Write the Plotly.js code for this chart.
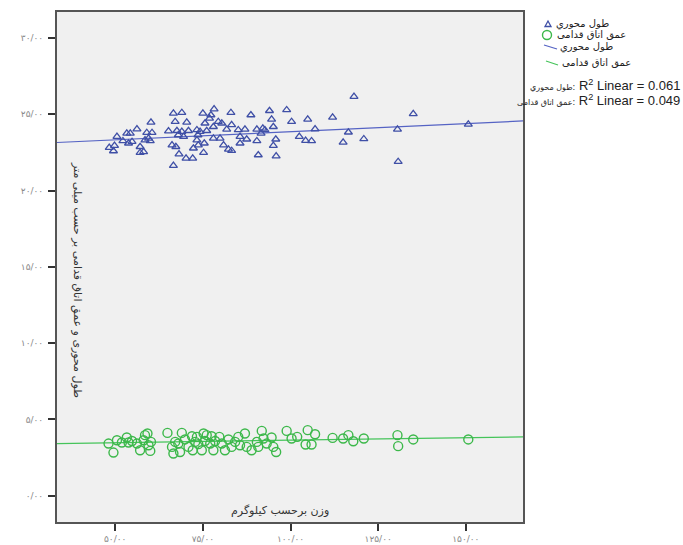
<!DOCTYPE html>
<html>
<head>
<meta charset="utf-8">
<script src="https://cdn.plot.ly/plotly-3.0.1.min.js"></script>
<style>html,body{margin:0;padding:0;background:#fff;}#chart{width:683px;height:545px;}</style>
</head>
<body>
<div id="chart"></div>
<script>
// ---- data ----
const seriesNames = ["طول محوري", "عمق اتاق قدامی"];

// weight (kg) vs axial length (mm)
const weightAL = [48.3,49.8,49.5,50.5,52.2,53.3,54.3,53.8,54.8,56.2,57.1,57.1,58.1,58.5,59.0,60.2,60.5,60.0,59.5,65.2,66.2,66.6,67.1,67.3,66.6,67.6,68.0,68.2,69.0,69.0,69.5,70.4,70.2,70.9,72.1,72.3,73.3,73.6,73.3,73.7,74.2,75.0,75.4,75.2,75.6,76.1,76.9,77.3,78.2,78.0,78.0,79.4,79.9,80.4,80.9,81.8,82.3,83.0,83.2,83.2,85.1,85.6,85.6,87.0,87.5,88.7,90.4,90.4,90.8,91.6,92.1,92.7,94.0,94.6,95.1,95.1,95.8,95.9,98.9,100.3,102.5,104.3,104.9,106.0,107.0,112.0,115.0,116.5,118.1,120.9,130.5,130.7,135.0,150.7];
const axialLength = [22.81,22.94,22.59,23.53,23.25,23.75,23.75,23.10,23.20,24.03,22.87,22.48,22.54,23.31,23.79,24.47,23.79,23.25,23.42,23.90,22.98,25.06,24.51,22.87,21.63,23.92,23.64,22.39,25.10,23.86,23.53,24.47,22.11,23.92,22.11,22.77,23.97,23.64,23.31,22.98,23.86,25.06,23.10,22.48,24.41,23.92,24.73,24.95,25.34,23.42,24.18,24.51,23.42,24.41,22.98,24.01,22.70,25.10,24.30,22.61,23.97,23.53,23.10,24.01,23.36,24.95,24.01,23.25,22.33,23.75,24.08,23.97,25.23,24.67,24.18,22.94,23.36,22.26,25.28,24.51,23.53,23.27,24.67,23.25,24.03,24.80,23.16,23.82,26.15,23.38,24.01,21.89,25.02,24.34];

// weight (kg) vs anterior chamber depth (mm)
const weightACD = [48.1,49.5,50.5,51.9,53.3,53.8,54.8,56.2,57.1,58.1,58.5,59.2,59.5,60.2,60.0,64.9,66.2,66.6,67.1,68.0,68.5,69.0,69.9,70.9,71.9,72.1,72.8,73.3,73.7,74.7,75.2,75.6,76.1,77.1,77.5,78.0,78.5,79.7,80.4,81.3,82.3,83.2,84.2,85.1,85.6,87.0,87.5,88.9,90.4,90.8,91.8,92.3,93.2,94.6,95.1,95.9,98.9,100.3,101.9,104.3,104.9,106.0,107.0,112.0,115.0,116.5,117.9,120.9,130.5,130.7,135.0,150.7];
const chamberDepth = [3.42,2.83,3.64,3.49,3.82,3.49,3.59,3.42,2.98,3.64,3.97,4.08,3.31,3.53,2.94,4.12,3.20,2.77,3.53,3.42,2.87,4.12,3.69,3.20,3.90,2.98,3.53,3.86,3.38,2.98,4.08,3.59,3.97,3.42,3.90,2.98,3.59,3.86,3.42,2.98,3.69,3.20,3.53,3.86,3.31,4.08,3.20,2.98,3.53,3.20,4.25,3.75,3.42,3.82,3.20,2.87,4.25,3.75,3.86,3.36,4.30,3.36,4.03,3.79,3.75,3.97,3.57,3.75,3.97,3.25,3.69,3.69];

// linear fit lines (ends read at the plot edges)
const fitX = [33.4, 166.3];
const fitAL = [23.15, 24.56];
const fitACD = [3.42, 3.86];

const r2Values = ["0.061", "0.049"];

const xTickVals = [50, 75, 100, 125, 150];
const xTickText = ["۵۰/۰۰", "۷۵/۰۰", "۱۰۰/۰۰", "۱۲۵/۰۰", "۱۵۰/۰۰"];
const yTickVals = [0, 5, 10, 15, 20, 25, 30];
const yTickText = ["۰/۰۰", "۵/۰۰", "۱۰/۰۰", "۱۵/۰۰", "۲۰/۰۰", "۲۵/۰۰", "۳۰/۰۰"];

const xTitle = "وزن برحسب کیلوگرم";
const yTitle = "طول محوری و عمق اتاق قدامی بر حسب میلی متر";

// ---- chart ----
const blue = "#3f4fa6", blueLine = "#5563c4";
const green = "#3cb84a", greenLine = "#45c45a";
const fa = "DejaVu Sans, sans-serif";

const traces = [
  {x: fitX, y: fitAL, mode: "lines", line: {color: blueLine, width: 1.2}, showlegend: false, hoverinfo: "skip"},
  {x: fitX, y: fitACD, mode: "lines", line: {color: greenLine, width: 1.2}, showlegend: false, hoverinfo: "skip"},
  {x: weightAL, y: axialLength, mode: "markers", name: seriesNames[0], showlegend: false,
   marker: {symbol: "triangle-up-open", size: 7, color: blue, line: {width: 1.3, color: blue}}},
  {x: weightACD, y: chamberDepth, mode: "markers", name: seriesNames[1], showlegend: false,
   marker: {symbol: "circle-open", size: 9, color: green, line: {width: 1.4, color: green}}}
];

// paper coordinate helpers (plot area: x 57..523, y 12..522)
const px = v => (v - 57) / 466;
const py = v => (522 - v) / 510;

const annotations = [
  {xref: "paper", yref: "paper", x: px(280), y: py(510), text: xTitle, showarrow: false,
   font: {family: fa, size: 11, color: "#333"}, xanchor: "center", yanchor: "middle"},
  {xref: "paper", yref: "paper", x: px(77), y: py(280), text: yTitle, textangle: 90, showarrow: false,
   font: {family: fa, size: 11, color: "#333"}, xanchor: "center", yanchor: "middle"},
  // legend texts
  {xref: "paper", yref: "paper", x: px(554), y: py(24), text: seriesNames[0], showarrow: false,
   font: {family: fa, size: 10, color: "#222"}, xanchor: "left", yanchor: "middle"},
  {xref: "paper", yref: "paper", x: px(555), y: py(35), text: seriesNames[1], showarrow: false,
   font: {family: fa, size: 10, color: "#222"}, xanchor: "left", yanchor: "middle"},
  {xref: "paper", yref: "paper", x: px(558), y: py(47), text: seriesNames[0], showarrow: false,
   font: {family: fa, size: 10, color: "#222"}, xanchor: "left", yanchor: "middle"},
  {xref: "paper", yref: "paper", x: px(560), y: py(63), text: seriesNames[1], showarrow: false,
   font: {family: fa, size: 10, color: "#222"}, xanchor: "left", yanchor: "middle"},
  {xref: "paper", yref: "paper", x: px(682), y: py(85), xanchor: "right", yanchor: "middle", showarrow: false,
   text: '<span style="font-family:DejaVu Sans;font-size:8px">' + seriesNames[0] + ':</span> R<sup>2</sup> Linear = ' + r2Values[0],
   font: {family: "Liberation Sans, Arial, sans-serif", size: 13, color: "#222"}},
  {xref: "paper", yref: "paper", x: px(682), y: py(100), xanchor: "right", yanchor: "middle", showarrow: false,
   text: '<span style="font-family:DejaVu Sans;font-size:8px">' + seriesNames[1] + ':</span> R<sup>2</sup> Linear = ' + r2Values[1],
   font: {family: "Liberation Sans, Arial, sans-serif", size: 13, color: "#222"}}
];

const shapes = [
  // legend symbols
  {type: "path", xref: "paper", yref: "paper", xsizemode: "pixel", ysizemode: "pixel",
   xanchor: px(548), yanchor: py(24), path: "M-3,-2.5 L3,-2.5 L0,3 Z",
   line: {color: blue, width: 1.3}},
  {type: "circle", xref: "paper", yref: "paper", xsizemode: "pixel", ysizemode: "pixel",
   xanchor: px(547), yanchor: py(35), x0: -4.5, x1: 4.5, y0: -4.5, y1: 4.5,
   line: {color: green, width: 1.4}},
  {type: "line", xref: "paper", yref: "paper", x0: px(544), y0: py(45), x1: px(557), y1: py(49),
   line: {color: blueLine, width: 1.2}},
  {type: "line", xref: "paper", yref: "paper", x0: px(546), y0: py(61), x1: px(558), y1: py(65),
   line: {color: greenLine, width: 1.2}}
];

const axisCommon = {
  showgrid: false, zeroline: false, showline: true, mirror: true,
  linecolor: "#555", linewidth: 2,
  ticks: "outside", ticklen: 7, tickwidth: 2, tickcolor: "#333",
  tickfont: {family: fa, size: 9, color: "#888"}, fixedrange: true
};

const layout = {
  width: 683, height: 545,
  margin: {l: 57, r: 160, t: 12, b: 23, pad: 0},
  paper_bgcolor: "#ffffff", plot_bgcolor: "#f0f0f0",
  showlegend: false, hovermode: false,
  xaxis: Object.assign({}, axisCommon, {range: [33.4, 166.3], tickvals: xTickVals, ticktext: xTickText}),
  yaxis: Object.assign({}, axisCommon, {range: [-1.72, 31.7], tickvals: yTickVals, ticktext: yTickText, ticklabelstandoff: 3}),
  annotations: annotations,
  shapes: shapes
};

Plotly.newPlot("chart", traces, layout, {displayModeBar: false, staticPlot: true});
</script>
</body>
</html>
